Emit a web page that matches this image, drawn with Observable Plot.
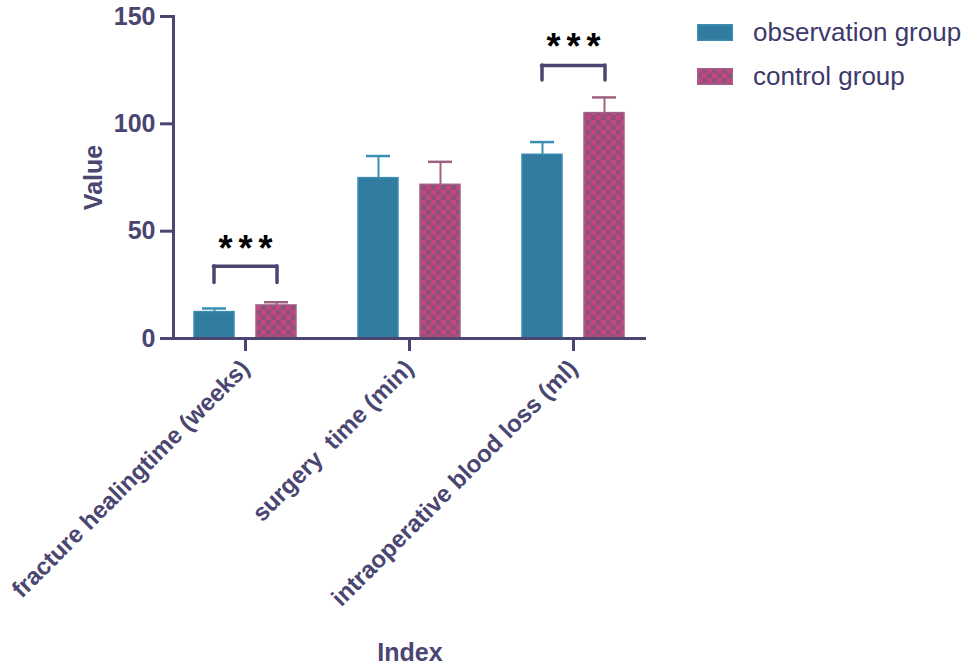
<!DOCTYPE html>
<html><head><meta charset="utf-8">
<script src="https://cdn.jsdelivr.net/npm/d3@7"></script>
<script src="https://cdn.jsdelivr.net/npm/@observablehq/plot@0.6"></script>
<style>
body{margin:0;background:#fff;font-family:"Liberation Sans",Arial,sans-serif}
#wrap{position:relative;width:968px;height:665px;overflow:hidden}
#wrap svg text{white-space:pre}
#wrap svg .stars text{letter-spacing:6px}
#legend{position:absolute;left:697px;top:10px;color:#3d3a6a;font-size:26px;font-family:"Liberation Sans",Arial,sans-serif}
.row{display:flex;align-items:center;height:44px}
.row svg{margin-right:20px}
</style></head><body><div id="wrap"><div id="legend"></div></div>
<script>
const categories = ["fracture healingtime (weeks)", "surgery  time (min)", "intraoperative blood loss (ml)"];
const groups = ["observation group", "control group"];
const observationMean = [12.3, 74.7, 85.6];
const observationSD = [1.7, 10.3, 5.9];
const controlMean = [15.4, 71.6, 105.0];
const controlSD = [1.5, 10.7, 7.3];
const yTicks = [0, 50, 100, 150];
const sigCategories = [categories[0], categories[2]];
const sigLabels = ["***", "***"];
const bracketLow = [25.8, 120.2];
const bracketHigh = [33.7, 127.2];
const starLevel = [41.5, 135.5];

const axisColor = "#4a4571";
const patternFill = {"observation group": "url(#obsPat)", "control group": "url(#ctrlPat)"};
const edgeColor = {"observation group": "#3b8db2", "control group": "#a0628a"};
const errColor = {"observation group": "#3a8fb3", "control group": "#a0607f"};
const offset = {"observation group": -31, "control group": 31};

const obsData = categories.map((c, i) => ({cat: c, group: groups[0], mean: observationMean[i], sd: observationSD[i]}));
const ctrlData = categories.map((c, i) => ({cat: c, group: groups[1], mean: controlMean[i], sd: controlSD[i]}));
const sig = sigCategories.map((c, i) => ({cat: c, label: sigLabels[i], low: bracketLow[i], high: bracketHigh[i], star: starLevel[i]}));

function buildDefs(sel) {
  const p1 = sel.append("pattern").attr("id", "obsPat").attr("width", 4).attr("height", 4).attr("patternUnits", "userSpaceOnUse");
  p1.append("rect").attr("width", 4).attr("height", 4).attr("fill", "#2d80a3");
  p1.append("rect").attr("width", 2).attr("height", 2).attr("fill", "#35789c");
  p1.append("rect").attr("x", 2).attr("y", 2).attr("width", 2).attr("height", 2).attr("fill", "#35789c");
  const p2 = sel.append("pattern").attr("id", "ctrlPat").attr("width", 10).attr("height", 10).attr("patternUnits", "userSpaceOnUse");
  p2.append("rect").attr("width", 10).attr("height", 10).attr("fill", "#8c5279");
  p2.append("rect").attr("width", 5).attr("height", 5).attr("fill", "#c4457f");
  p2.append("rect").attr("x", 5).attr("y", 5).attr("width", 5).attr("height", 5).attr("fill", "#c4457f");
}
const defsMark = () => { const d = d3.create("svg:defs"); buildDefs(d); return d.node(); };

function groupMarks(data, g) {
  const dx = offset[g];
  return [
    Plot.ruleX(data, {x: "cat", y1: "mean", y2: d => d.mean + d.sd, dx, stroke: errColor[g], strokeWidth: 2}),
    Plot.tickY(data, {x: "cat", y: d => d.mean + d.sd, dx, stroke: errColor[g], strokeWidth: 2.5, insetLeft: 8, insetRight: 8}),
    Plot.barY(data, {x: "cat", y: "mean", dx, fill: patternFill[g], stroke: edgeColor[g], strokeWidth: 1.5})
  ];
}

const chart = Plot.plot({
  width: 968, height: 665,
  marginLeft: 173, marginRight: 322, marginTop: 16, marginBottom: 327,
  style: {fontFamily: "Liberation Sans, Arial, sans-serif", color: axisColor, background: "white", overflow: "visible"},
  x: {type: "band", domain: categories, paddingInner: 0.755, paddingOuter: 0.318, align: 0.5},
  y: {domain: [0, 150]},
  marks: [
    defsMark,
    ...groupMarks(obsData, groups[0]),
    ...groupMarks(ctrlData, groups[1]),
    Plot.tickY(sig, {x: "cat", y: "high", stroke: axisColor, strokeWidth: 3.5, insetLeft: -11.5, insetRight: -11.5, strokeLinecap: "round"}),
    Plot.ruleX(sig, {x: "cat", y1: "low", y2: "high", dx: -31.5, stroke: axisColor, strokeWidth: 3.5, strokeLinecap: "round"}),
    Plot.ruleX(sig, {x: "cat", y1: "low", y2: "high", dx: 31.5, stroke: axisColor, strokeWidth: 3.5, strokeLinecap: "round"}),
    Plot.text(sig, {x: "cat", y: "star", text: "label", fill: "black", fontSize: 36, fontWeight: "bold", lineAnchor: "middle", dx: 3, className: "stars"}),
    Plot.ruleY([0], {stroke: axisColor, strokeWidth: 3}),
    Plot.frame({anchor: "left", stroke: axisColor, strokeWidth: 3}),
    Plot.axisY({ticks: yTicks, tickSize: 13, tickPadding: 5, strokeWidth: 3, fontSize: 25, fontWeight: "bold",
      label: "Value", labelArrow: "none", labelAnchor: "center", labelOffset: 89}),
    Plot.axisX({tickRotate: -45, tickSize: 13, tickPadding: 13, strokeWidth: 3, fontSize: 24, fontWeight: "bold",
      label: "Index", labelArrow: "none", labelAnchor: "center", labelOffset: 322})
  ]
});
chart.querySelectorAll("g[aria-label$='axis label'] text").forEach(t => {
  t.setAttribute("font-size", 25); t.setAttribute("font-weight", "bold");
  t.textContent = t.textContent.replace(/[↑→←↓]/g, "").trim();
});
document.getElementById("wrap").prepend(chart);

const legend = d3.select("#legend");
groups.forEach(g => {
  const row = legend.append("div").attr("class", "row");
  const s = row.append("svg").attr("width", 36).attr("height", 17);
  s.append("rect").attr("x", 0.75).attr("y", 0.75).attr("width", 34.5).attr("height", 15.5).attr("fill", patternFill[g]).attr("stroke", edgeColor[g]).attr("stroke-width", 1.5);
  row.append("span").text(g);
});
</script></body></html>
